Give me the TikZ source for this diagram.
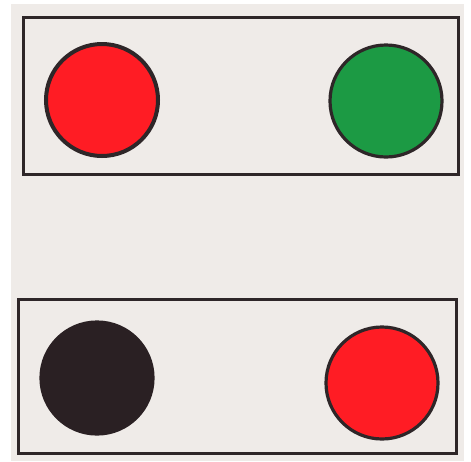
\documentclass[tikz,border=0pt]{standalone}
\usepackage{tikz}
\definecolor{paper}{HTML}{EFEBE8}
\definecolor{ink}{HTML}{2E2628}
\definecolor{lampred}{HTML}{FF1C24}
\definecolor{lampgreen}{HTML}{1C9A44}
\definecolor{lampblack}{HTML}{2A2023}
\begin{document}
\begin{tikzpicture}[x=0.5pt,y=-0.5pt,
  panel/.style={draw=ink, line width=1.5pt, minimum width=#1, inner sep=0pt},
  lamp/.style={circle, fill=#1, draw=ink, line width=1.6pt, minimum size=56pt, inner sep=0pt}]
\useasboundingbox (0,0) rectangle (471,461);
\fill[paper] (11,4) rectangle (464,461);
% upper panel
\node[panel=217.5pt, minimum height=78.5pt] (top) at (240.5,95.5) {};
\node[lamp=lampred, line width=2pt] (topleft) at (102,100) {};
\node[lamp=lampgreen] (topright) at (386,101) {};
% lower panel
\node[panel=219pt, minimum height=77pt] (bottom) at (237,376) {};
\node[lamp=lampblack, draw=lampblack] (bottomleft) at (97,378) {};
\node[lamp=lampred] (bottomright) at (382,383) {};
\end{tikzpicture}
\end{document}
